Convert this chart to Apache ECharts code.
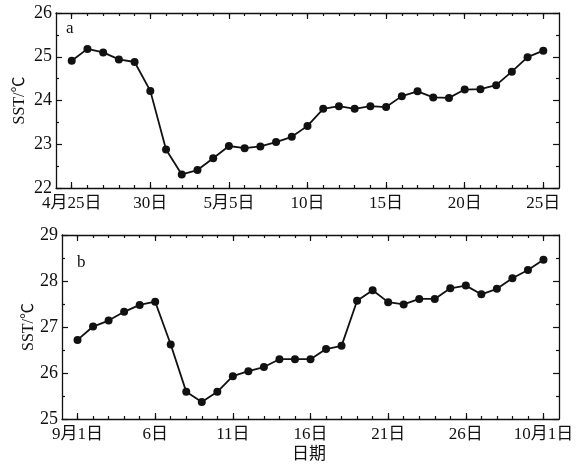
<!DOCTYPE html>
<html>
<head>
<meta charset="utf-8">
<script src="https://cdn.jsdelivr.net/npm/echarts@6/dist/echarts.min.js"></script>
<style>
  html, body { margin: 0; padding: 0; background: #fff; }
  #chart { width: 588px; height: 471px; }
</style>
</head>
<body>
<div id="chart"></div>
<script>
// Daily SST, 25 Apr – 25 May (panel a) and 1 Sep – 1 Oct (panel b)
const sstSpring = [24.91, 25.18, 25.10, 24.94, 24.88, 24.22, 22.88, 22.31, 22.41, 22.68,
  22.96, 22.91, 22.95, 23.05, 23.17, 23.42, 23.81, 23.87, 23.81, 23.87,
  23.85, 24.10, 24.21, 24.07, 24.06, 24.25, 24.26, 24.35, 24.66, 24.99, 25.14];
const sstAutumn = [26.72, 27.01, 27.14, 27.33, 27.48, 27.55, 26.62, 25.59, 25.37, 25.59,
  25.93, 26.04, 26.13, 26.30, 26.30, 26.30, 26.52, 26.59, 27.57, 27.80,
  27.54, 27.49, 27.61, 27.61, 27.84, 27.90, 27.71, 27.83, 28.06, 28.24, 28.46];
const tickLabelsSpring = ['4月25日', '30日', '5月5日', '10日', '15日', '20日', '25日'];
const tickLabelsAutumn = ['9月1日', '6日', '11日', '16日', '21日', '26日', '10月1日'];
const majorDays = [0, 5, 10, 15, 20, 25, 30];
const yTicksSpring = [22, 23, 24, 25, 26];
const yTicksAutumn = [25, 26, 27, 28, 29];

const FONT = "'Liberation Serif', 'Noto Sans CJK SC', serif";
const black = '#111';
const allDays = [];
for (let d = 0; d <= 30; d++) allDays.push(d);

// Four x axes per panel: bottom (line, day ticks, labels), bottom major ticks,
// top (line, day ticks), top major ticks.
function xAxesFor(gridIndex, labels) {
  const base = {
    type: 'value', gridIndex, min: -1, max: 31,
    splitLine: { show: false }
  };
  const tickStyle = { color: black, width: 1.2 };
  return [
    Object.assign({}, base, {
      position: 'bottom',
      axisLine: { show: true, onZero: false, lineStyle: { color: black, width: 1.3 } },
      axisTick: { show: true, inside: true, length: 3, customValues: allDays, lineStyle: tickStyle },
      axisLabel: { show: true, customValues: majorDays, margin: 7,
        color: black, fontFamily: FONT, fontSize: 17,
        formatter: v => labels[majorDays.indexOf(Math.round(v))] || '' }
    }),
    Object.assign({}, base, {
      position: 'bottom',
      axisLine: { show: false, onZero: false },
      axisTick: { show: true, inside: true, length: 6, customValues: majorDays, lineStyle: tickStyle },
      axisLabel: { show: false }
    }),
    Object.assign({}, base, {
      position: 'top',
      axisLine: { show: true, onZero: false, lineStyle: { color: black, width: 1.3 } },
      axisTick: { show: true, inside: true, length: 3, customValues: allDays, lineStyle: tickStyle },
      axisLabel: { show: false }
    }),
    Object.assign({}, base, {
      position: 'top',
      axisLine: { show: false, onZero: false },
      axisTick: { show: true, inside: true, length: 6, customValues: majorDays, lineStyle: tickStyle },
      axisLabel: { show: false }
    })
  ];
}

function yAxesFor(gridIndex, ticks, nameGap) {
  const base = {
    type: 'value', gridIndex,
    min: ticks[0], max: ticks[ticks.length - 1], interval: 1,
    splitLine: { show: false },
    axisLine: { show: true, onZero: false, lineStyle: { color: black, width: 1.3 } },
    axisTick: { show: true, inside: true, length: 6, lineStyle: { color: black, width: 1.2 } },
    minorTick: { show: true, splitNumber: 2, length: 3, lineStyle: { color: black, width: 1.2 } }
  };
  return [
    Object.assign({}, base, {
      position: 'left',
      name: 'SST/℃', nameLocation: 'middle', nameGap: nameGap, nameMoveOverlap: false,
      nameTextStyle: { color: black, fontFamily: FONT, fontSize: 16 },
      axisLabel: { show: true, margin: 4, color: black, fontFamily: FONT, fontSize: 18 }
    }),
    Object.assign({}, base, {
      position: 'right',
      axisLabel: { show: false }
    })
  ];
}

function lineSeries(values, xIdx, yIdx) {
  return {
    type: 'line', xAxisIndex: xIdx, yAxisIndex: yIdx,
    data: values.map((v, i) => [i, v]),
    symbol: 'circle', symbolSize: 8,
    itemStyle: { color: black },
    lineStyle: { color: black, width: 1.8 },
    silent: true, animation: false
  };
}

const chart = echarts.init(document.getElementById('chart'));
chart.setOption({
  backgroundColor: '#fff',
  animation: false,
  grid: [
    { left: 56, right: 29, top: 13, height: 175 },
    { left: 62, right: 29, top: 235, height: 184 }
  ],
  xAxis: [].concat(xAxesFor(0, tickLabelsSpring), xAxesFor(1, tickLabelsAutumn)),
  yAxis: [].concat(yAxesFor(0, yTicksSpring, 28), yAxesFor(1, yTicksAutumn, 25)),
  series: [
    lineSeries(sstSpring, 0, 0),
    lineSeries(sstAutumn, 4, 2)
  ],
  graphic: [
    { type: 'text', left: 66, top: 20, style: { text: 'a', font: '17px ' + FONT, fill: black } },
    { type: 'text', left: 77, top: 254, style: { text: 'b', font: '17px ' + FONT, fill: black } },
    { type: 'text', left: 292, top: 446, style: { text: '日期', font: '17px ' + FONT, fill: black } }
  ]
});
</script>
</body>
</html>
